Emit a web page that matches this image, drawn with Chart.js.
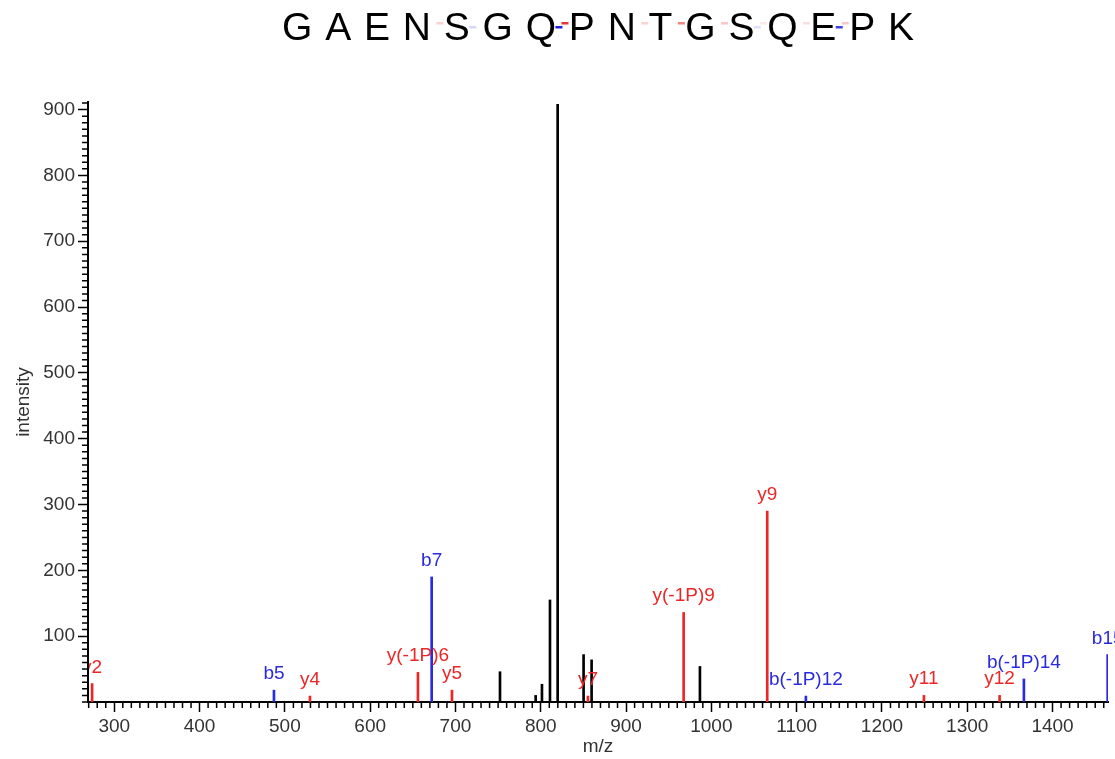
<!DOCTYPE html>
<html lang="es">
<head>
<meta charset="utf-8">
<title>Espectro MS/MS</title>
<script src="https://cdn.jsdelivr.net/npm/chart.js@4.4.1/dist/chart.umd.min.js"></script>
<style>
    html, body { margin: 0; padding: 0; background: #fff; }
    #espectroChart { display: block; }
</style>
</head>
<body>
<canvas id="espectroChart" width="1115" height="759"></canvas>
<script>
// Secuencia del péptido (se dibuja como título)
const secuencia = ['G', 'A', 'E', 'N', 'S', 'G', 'Q', 'P', 'N', 'T', 'G', 'S', 'Q', 'E', 'P', 'K'];
// Marcas de corte entre residuos (opacidad): b = azul, y = rojo
const cortesB = [0, 0, 0, 0, 0.18, 0, 1, 0, 0, 0, 0, 0.14, 0, 0.85, 0];
const cortesY = [0, 0, 0, 0.2, 0, 0, 0.9, 0, 0.2, 0.55, 0.25, 0.1, 0.15, 0.25, 0];

// Picos sin asignar (negro)
const otrosMz = [752.2, 794.0, 801.4, 810.8, 819.8, 850.2, 859.6, 986.6];
const otrosInt = [46, 10, 27, 155, 908, 72, 64, 54];

// Iones y (rojo)
const ionesYEtiquetas = ['y2', 'y4', 'y(-1P)6', 'y5', 'y7', 'y(-1P)9', 'y9', 'y11', 'y12'];
const ionesYMz = [274.0, 529.4, 656.0, 695.9, 855.3, 967.5, 1065.5, 1249.2, 1337.9];
const ionesYInt = [28, 9, 45, 18, 9, 136, 290, 10, 10];

// Iones b (azul)
const ionesBEtiquetas = ['b5', 'b7', 'b(-1P)12', 'b(-1P)14', 'b15'];
const ionesBMz = [487.2, 672.1, 1110.8, 1366.4, 1464.6];
const ionesBInt = [18, 190, 9, 35, 72];

// Ejes y sus marcas
const xMin = 269.2, xMax = 1465, xPasoMenor = 10;
const yMin = 0, yMax = 911.5, yPasoMenor = 10;
const xMarcas = [300, 400, 500, 600, 700, 800, 900, 1000, 1100, 1200, 1300, 1400];
const yMarcas = [100, 200, 300, 400, 500, 600, 700, 800, 900];

const FUENTE = '"Liberation Sans", Arial, Helvetica, sans-serif';
const COLOR_Y = '#ec2626';
const COLOR_B = '#2a2ade';
const COLOR_TEXTO = '#333';

class EspectroChart {
    constructor(canvas) {
        this.canvas = canvas;
        this.chart = null;
        this.init();
    }

    init() {
        this.chart = new Chart(this.canvas.getContext('2d'), {
            type: 'bar',
            data: {
                datasets: [
                    this.crearDataset(otrosMz, otrosInt, '#000', null),
                    this.crearDataset(ionesYMz, ionesYInt, COLOR_Y, ionesYEtiquetas),
                    this.crearDataset(ionesBMz, ionesBInt, COLOR_B, ionesBEtiquetas)
                ]
            },
            options: {
                responsive: false,
                animation: false,
                layout: { padding: { top: 102, right: 7, left: 0, bottom: 0 } },
                plugins: {
                    legend: { display: false },
                    tooltip: { enabled: false },
                    title: { display: false }
                },
                scales: {
                    x: this.crearEje(xMin, xMax, xMarcas, 'm/z', { top: 0, bottom: 1 }, (s) => { s.height = 57; }),
                    y: this.crearEje(yMin, yMax, yMarcas, 'intensity', { top: 12, bottom: 0 }, (s) => { s.width = 88; })
                }
            },
            plugins: [this.pluginTitulo(), this.pluginMarcasMenores(), this.pluginEtiquetas()]
        });
    }

    crearDataset(mz, intensidad, color, etiquetas) {
        return {
            data: mz.map((x, i) => ({ x: x, y: intensidad[i] })),
            backgroundColor: color,
            borderWidth: 0,
            barThickness: 2,
            grouped: false,
            etiquetas: etiquetas,
            colorEtiqueta: color
        };
    }

    crearEje(min, max, marcas, titulo, paddingTitulo, ajuste) {
        return {
            type: 'linear',
            min: min,
            max: max,
            offset: false,
            grid: {
                offset: false,
                drawOnChartArea: false,
                drawTicks: true,
                tickLength: 10,
                tickColor: '#000',
                tickWidth: 1.5
            },
            border: { display: true, color: '#000', width: 2 },
            ticks: {
                autoSkip: false,
                maxRotation: 0,
                padding: 3,
                color: COLOR_TEXTO,
                font: { family: FUENTE, size: 19 },
                callback: (v) => String(v)
            },
            title: {
                display: true,
                text: titulo,
                color: COLOR_TEXTO,
                font: { family: FUENTE, size: 19 },
                padding: paddingTitulo
            },
            afterBuildTicks: (s) => { s.ticks = marcas.map((v) => ({ value: v })); },
            afterFit: ajuste
        };
    }

    // Título: secuencia con marcas de fragmentación entre letras
    pluginTitulo() {
        return {
            id: 'tituloSecuencia',
            afterDraw(chart) {
                const ctx = chart.ctx;
                const area = chart.chartArea;
                const hueco = 12.8;
                ctx.save();
                ctx.font = '39px ' + FUENTE;
                ctx.textBaseline = 'alphabetic';
                const anchos = secuencia.map((l) => ctx.measureText(l).width);
                const total = anchos.reduce((a, b) => a + b, 0) + hueco * (secuencia.length - 1);
                let x = (area.left + area.right) / 2 - total / 2;

                secuencia.forEach((letra, i) => {
                    ctx.fillStyle = '#000';
                    ctx.fillText(letra, x, 40);
                    x += anchos[i];
                    if (i < secuencia.length - 1) {
                        const medio = x + hueco / 2;
                        if (cortesB[i] > 0) {
                            ctx.fillStyle = `rgba(30, 30, 230, ${cortesB[i]})`;
                            ctx.fillRect(medio - 7, 26, 7, 2.5);
                        }
                        if (cortesY[i] > 0) {
                            ctx.fillStyle = `rgba(236, 30, 30, ${cortesY[i]})`;
                            ctx.fillRect(medio - 1, 22, 7, 2.5);
                        }
                        x += hueco;
                    }
                });
                ctx.restore();
            }
        };
    }

    // Marcas menores cada 10 unidades en ambos ejes
    pluginMarcasMenores() {
        return {
            id: 'marcasMenores',
            afterDraw(chart) {
                const { ctx, scales } = chart;
                const ejeX = scales.x;
                const ejeY = scales.y;
                ctx.save();
                ctx.strokeStyle = '#000';
                ctx.lineWidth = 1.5;
                ctx.beginPath();
                for (let v = Math.ceil(xMin / xPasoMenor) * xPasoMenor; v <= xMax; v += xPasoMenor) {
                    if (xMarcas.includes(v)) continue;
                    const px = ejeX.getPixelForValue(v);
                    ctx.moveTo(px, ejeX.top);
                    ctx.lineTo(px, ejeX.top + 6);
                }
                for (let v = Math.ceil(yMin / yPasoMenor) * yPasoMenor; v <= yMax; v += yPasoMenor) {
                    if (yMarcas.includes(v)) continue;
                    const py = ejeY.getPixelForValue(v);
                    ctx.moveTo(ejeY.right, py);
                    ctx.lineTo(ejeY.right - 6, py);
                }
                ctx.stroke();
                ctx.restore();
            }
        };
    }

    // Etiquetas de los iones sobre cada pico
    pluginEtiquetas() {
        return {
            id: 'etiquetasIones',
            afterDatasetsDraw(chart) {
                const ctx = chart.ctx;
                const area = chart.chartArea;
                ctx.save();
                ctx.beginPath();
                ctx.rect(area.left + 1, 0, chart.width, area.bottom);
                ctx.clip();
                ctx.font = '19px ' + FUENTE;
                ctx.textAlign = 'center';
                ctx.textBaseline = 'alphabetic';
                chart.data.datasets.forEach((ds, di) => {
                    if (!ds.etiquetas) return;
                    const meta = chart.getDatasetMeta(di);
                    ctx.fillStyle = ds.colorEtiqueta;
                    meta.data.forEach((barra, i) => {
                        ctx.fillText(ds.etiquetas[i], barra.x, barra.y - 11);
                    });
                });
                ctx.restore();
            }
        };
    }
}

document.addEventListener('DOMContentLoaded', () => {
    window.espectroChart = new EspectroChart(document.getElementById('espectroChart'));
});
</script>
</body>
</html>
